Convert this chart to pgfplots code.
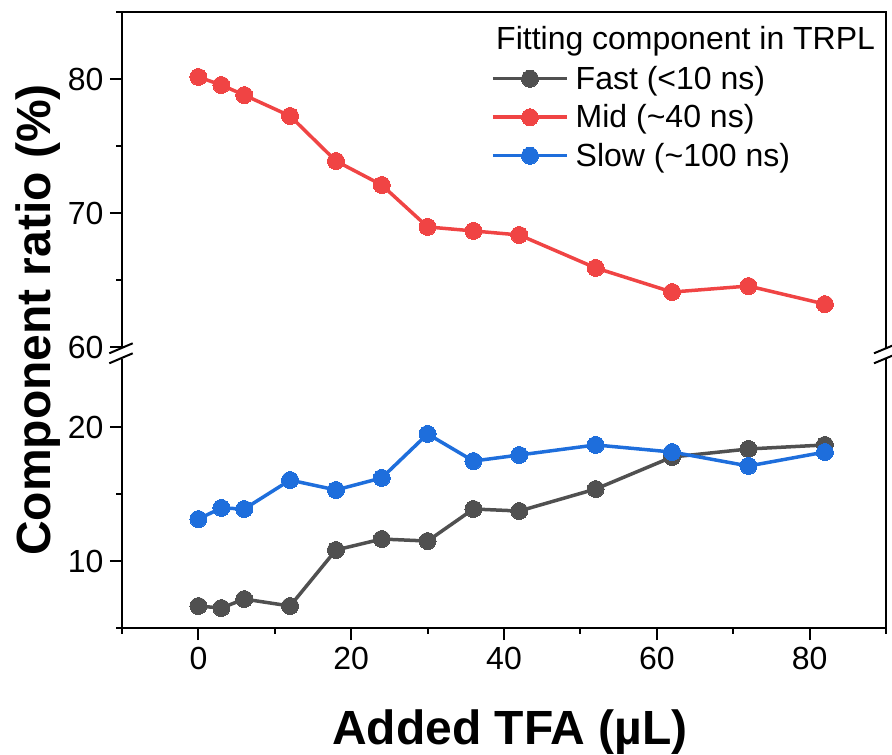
\documentclass[border=0pt]{standalone}
\usepackage{fontspec}
\setmainfont{Liberation Sans}
\usepackage{pgfplots}
\usepackage{pgfplotstable}
\pgfplotsset{compat=1.18}
\definecolor{cfast}{RGB}{80,80,80}
\definecolor{cmid}{RGB}{240,68,68}
\definecolor{cslow}{RGB}{30,110,220}

\pgfplotstableread{
x fast mid slow
0 6.64 80.15 13.13
3 6.49 79.55 13.96
6 7.16 78.80 13.88
12 6.64 77.24 16.04
18 10.82 73.88 15.30
24 11.64 72.09 16.20
30 11.49 68.96 19.48
36 13.88 68.66 17.46
42 13.73 68.36 17.91
52 15.37 65.90 18.66
62 17.76 64.10 18.13
72 18.36 64.55 17.09
82 18.66 63.20 18.13
}\data

\pgfplotsset{
  sfast/.style={color=cfast, line width=3.5pt, mark=*, mark size=8.5pt, mark options={solid, fill=cfast, draw=cfast, line width=0pt}},
  smid/.style={color=cmid, line width=3.5pt, mark=*, mark size=8.5pt, mark options={solid, fill=cmid, draw=cmid, line width=0pt}},
  sslow/.style={color=cslow, line width=3.5pt, mark=*, mark size=8.5pt, mark options={solid, fill=cslow, draw=cslow, line width=0pt}},
  common/.style={
    scale only axis, width=764pt, xmin=-10, xmax=90,
    axis line style={draw=none},
    tick align=outside, tick pos=left,
    major tick length=12pt, minor tick length=6pt,
    tick style={line width=2pt, black},
    ticklabel style={font=\fontsize{32}{38}\selectfont},
    yticklabel style={xshift=-3pt},
    xticklabel style={yshift=-4pt},
    /pgf/number format/assume math mode=true,
    anchor=south west,
  },
}

\begin{document}
\begin{tikzpicture}[x=1pt,y=1pt]
\path[use as bounding box] (0,0) rectangle (892,755);

% lower axis
\begin{axis}[common,
  at={(122pt,127pt)}, height=268pt,
  ymin=5, ymax=25,
  ytick={10,20}, minor ytick={5,15},
  xtick={0,20,40,60,80}, minor xtick={-10,10,30,50,70,90},
  after end axis/.code={\draw[line width=2pt, line cap=rect] (rel axis cs:0,1) -- (rel axis cs:0,0) -- (rel axis cs:1,0) -- (rel axis cs:1,1);},
]
\addplot[sfast] table[x=x, y=fast] {\data};
\addplot[sslow] table[x=x, y=slow] {\data};
\end{axis}

% upper axis
\begin{axis}[common,
  at={(122pt,408pt)}, height=335pt,
  ymin=60, ymax=85,
  ytick={60,70,80}, minor ytick={65,75,85},
  xtick=\empty,
  after end axis/.code={\draw[line width=2pt, line cap=rect] (rel axis cs:0,0) -- (rel axis cs:0,1) -- (rel axis cs:1,1) -- (rel axis cs:1,0);},
  legend cell align=left,
  legend image code/.code={\draw[#1, mark repeat=2, mark phase=2] plot coordinates {(0pt,0pt) (37pt,0pt) (74pt,0pt)};},
  legend style={at={(0.4830,0.8507)}, anchor=north west, draw=none, fill=none,
    inner sep=0pt, row sep=5.5pt, column sep=7pt,
    font=\fontsize{32}{38}\selectfont,
    nodes={inner sep=0pt, text height=27pt, text depth=6pt}},
]
\addlegendimage{sfast}
\addlegendentry{Fast (<10 ns)}
\addplot[smid] table[x=x, y=mid] {\data};
\addlegendentry{Mid (\textasciitilde 40 ns)}
\addlegendimage{sslow}
\addlegendentry{Slow (\textasciitilde 100 ns)}
\end{axis}

% break marks
\draw[line width=2pt] (109.3,401.7) -- (132.7,411.7);
\draw[line width=2pt] (109.3,391.7) -- (132.7,401.7);
\draw[line width=2pt] (874,401.7) -- (898,411.7);
\draw[line width=2pt] (874,391.7) -- (898,401.7);

% legend title
\node[anchor=base west, inner sep=0pt, font=\fontsize{32}{38}\selectfont] at (496,705) {Fitting component in TRPL};

% axis labels
\node[anchor=base, inner sep=0pt, font=\fontsize{48}{56}\selectfont\bfseries] at (510,10) {Added TFA (µL)};
\node[anchor=base, rotate=90, inner sep=0pt, font=\fontsize{48}{56}\selectfont\bfseries] at (50,435) {Component ratio (\%)};
\end{tikzpicture}
\end{document}
